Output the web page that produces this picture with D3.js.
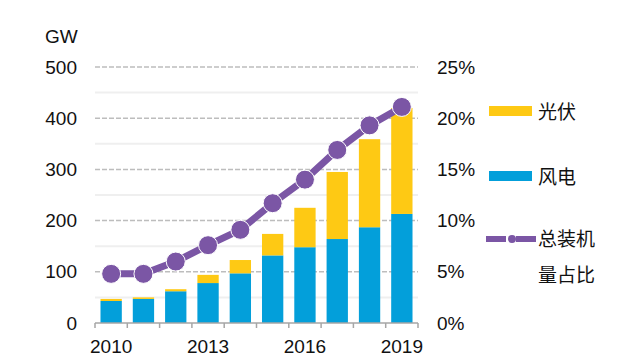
<!DOCTYPE html>
<html>
<head>
<meta charset="utf-8">
<script src="https://cdn.jsdelivr.net/npm/d3@7"></script>
<style>
  body { margin: 0; background: #fff; }
  text { font-family: Arial, "Liberation Sans", "Noto Sans CJK SC", sans-serif; fill: #111; }
</style>
</head>
<body>
<div id="chart"></div>
<script>
// data
const years = ['2010', '2011', '2012', '2013', '2014', '2015', '2016', '2017', '2018', '2019'];
const wind = [43, 47, 62, 78, 97, 132, 148, 164, 187, 213];
const solar = [4, 3, 4, 16, 26, 42, 77, 131, 172, 207];
const share = [4.8, 4.8, 6.0, 7.6, 9.1, 11.7, 14.0, 16.9, 19.3, 21.1];
const leftTicks = [0, 100, 200, 300, 400, 500];
const rightTicks = [0, 5, 10, 15, 20, 25];
const xLabels = ['2010', '2013', '2016', '2019'];

const width = 620;
const height = 363;
const margin = { left: 95, right: 202, top: 67, bottom: 40 };

const colWind = '#039fda';
const colSolar = '#fec914';
const colLine = '#7b56a5';
const fs = 19;

function init() {
  const svg = d3.select('#chart').append('svg').attr('width', width).attr('height', height);

  const x = d3.scaleBand().domain(years).range([margin.left, width - margin.right]).paddingInner(0.34).paddingOuter(0.17);
  const y = d3.scaleLinear().domain([0, 500]).range([height - margin.bottom, margin.top]);
  const yr = d3.scaleLinear().domain([0, 25]).range([height - margin.bottom, margin.top]);

  // light minor lines
  svg.append('g').selectAll('line')
    .data(d3.range(50, 500, 100))
    .enter().append('line')
    .attr('x1', margin.left).attr('x2', width - margin.right)
    .attr('y1', (d) => y(d)).attr('y2', (d) => y(d))
    .attr('stroke', '#efefef').attr('stroke-width', 2);

  // dashed gridlines
  svg.append('g').selectAll('line')
    .data(leftTicks.slice(1))
    .enter().append('line')
    .attr('x1', margin.left).attr('x2', width - margin.right)
    .attr('y1', (d) => y(d)).attr('y2', (d) => y(d))
    .attr('stroke', '#bdbdbd').attr('stroke-width', 1.5).attr('stroke-dasharray', '5,2');

  // stacked bars
  const stacked = years.map((yr_, i) => ({ year: yr_, wind: wind[i], solar: solar[i] }));
  const series = d3.stack().keys(['wind', 'solar'])(stacked);
  const colors = { wind: colWind, solar: colSolar };
  svg.append('g').selectAll('g')
    .data(series)
    .enter().append('g')
    .attr('fill', (d) => colors[d.key])
    .selectAll('rect')
    .data((d) => d)
    .enter().append('rect')
    .attr('x', (d) => x(d.data.year))
    .attr('width', x.bandwidth())
    .attr('y', (d) => y(d[1]))
    .attr('height', (d) => y(d[0]) - y(d[1]));

  // x axis
  const xAxis = svg.append('g').attr('transform', `translate(0,${height - margin.bottom})`);
  xAxis.append('line')
    .attr('x1', margin.left).attr('x2', width - margin.right)
    .attr('stroke', '#a6a6a6').attr('stroke-width', 1.5);
  const step = x.step();
  const bounds = d3.range(years.length + 1).map((i) => margin.left + i * step);
  xAxis.selectAll('.tk').data(bounds).enter().append('line')
    .attr('class', 'tk')
    .attr('x1', (d) => d).attr('x2', (d) => d)
    .attr('y1', 0).attr('y2', 5)
    .attr('stroke', '#a6a6a6').attr('stroke-width', 1.5);
  xAxis.selectAll('text').data(xLabels).enter().append('text')
    .attr('x', (d) => x(d) + x.bandwidth() / 2)
    .attr('y', 30)
    .attr('text-anchor', 'middle')
    .attr('font-size', fs)
    .text((d) => d);

  // left axis labels
  svg.append('g').selectAll('text')
    .data(leftTicks)
    .enter().append('text')
    .attr('x', 77).attr('y', (d) => y(d))
    .attr('dy', '0.35em')
    .attr('text-anchor', 'end')
    .attr('font-size', fs)
    .text((d) => d);
  svg.append('text').attr('x', 45).attr('y', 43).attr('font-size', fs).text('GW');

  // right axis labels
  svg.append('g').selectAll('text')
    .data(rightTicks)
    .enter().append('text')
    .attr('x', 437).attr('y', (d) => yr(d))
    .attr('dy', '0.35em')
    .attr('font-size', fs)
    .text((d) => d + '%');

  // share line
  const cx = (i) => x(years[i]) + x.bandwidth() / 2;
  const line = d3.line().x((d, i) => cx(i)).y((d) => yr(d));
  svg.append('path')
    .datum(share)
    .attr('d', line)
    .attr('fill', 'none')
    .attr('stroke', colLine)
    .attr('stroke-width', 7);
  svg.append('g').selectAll('circle')
    .data(share)
    .enter().append('circle')
    .attr('cx', (d, i) => cx(i))
    .attr('cy', (d) => yr(d))
    .attr('r', 9.5)
    .attr('fill', colLine)
    .attr('stroke', '#fff')
    .attr('stroke-width', 1);

  // legend
  const lg = svg.append('g');
  lg.append('rect').attr('x', 489).attr('y', 106).attr('width', 43).attr('height', 10).attr('fill', colSolar);
  lg.append('text').attr('x', 538).attr('y', 112).attr('dy', '0.35em').attr('font-size', fs).text('光伏');
  lg.append('rect').attr('x', 489).attr('y', 171).attr('width', 43).attr('height', 10).attr('fill', colWind);
  lg.append('text').attr('x', 538).attr('y', 177).attr('dy', '0.35em').attr('font-size', fs).text('风电');
  lg.append('line').attr('x1', 486).attr('x2', 536).attr('y1', 239).attr('y2', 239)
    .attr('stroke', colLine).attr('stroke-width', 6).attr('stroke-dasharray', '20,3,4,3,40');
  lg.append('circle').attr('cx', 512).attr('cy', 239).attr('r', 4).attr('fill', colLine);
  lg.append('text').attr('x', 538).attr('y', 239).attr('dy', '0.35em').attr('font-size', fs).text('总装机');
  lg.append('text').attr('x', 538).attr('y', 275).attr('dy', '0.35em').attr('font-size', fs).text('量占比');
}

document.addEventListener('DOMContentLoaded', init);
</script>
</body>
</html>
